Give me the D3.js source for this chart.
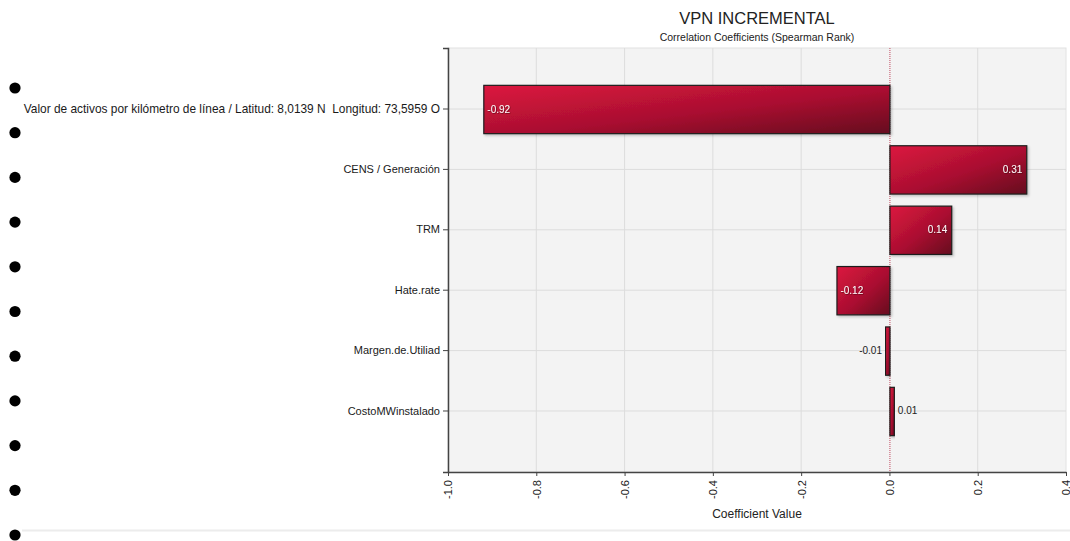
<!DOCTYPE html>
<html>
<head>
<meta charset="utf-8">
<script src="https://cdn.jsdelivr.net/npm/d3@7"></script>
<style>
  html, body { margin: 0; padding: 0; background: #ffffff; }
  svg { display: block; font-family: "Liberation Sans", "DejaVu Sans", sans-serif; }
  .ylab text { white-space: pre; }
</style>
</head>
<body>
<svg id="chart" width="1070" height="541"></svg>
<script>
// Tornado data: Spearman rank correlation of each input with VPN INCREMENTAL
const categories = [
  "Valor de activos por kilómetro de línea / Latitud: 8,0139 N  Longitud: 73,5959 O",
  "CENS / Generación",
  "TRM",
  "Hate.rate",
  "Margen.de.Utiliad",
  "CostoMWinstalado"
];
const coefficients = [-0.92, 0.31, 0.14, -0.12, -0.01, 0.01];
const xTicks = [-1.0, -0.8, -0.6, -0.4, -0.2, 0.0, 0.2, 0.4];
const xDomain = [-1.0, 0.4];

const titleText = "VPN INCREMENTAL";
const subtitleText = "Correlation Coefficients (Spearman Rank)";
const xAxisTitle = "Coefficient Value";

const svg = d3.select("#chart");
const W = 1070, H = 541;
const plot = { left: 448, right: 1066, top: 48, bottom: 472 };

const x = d3.scaleLinear().domain(xDomain).range([plot.left, plot.right]);
const y = d3.scaleBand().domain(categories).range([plot.top, plot.bottom])
  .paddingInner(0.2).paddingOuter(0.61);

// plain hyphen for negative numbers
const hyphen = f => v => f(v).replace("\u2212", "-");

// list bullets down the left margin
const bulletCount = 11;
svg.append("g").selectAll("circle")
  .data(d3.range(bulletCount))
  .join("circle")
  .attr("cx", 15)
  .attr("cy", i => 88 + i * 44.7)
  .attr("r", 5.6)
  .attr("fill", "#000");

// separator line near the bottom
svg.append("line")
  .attr("x1", 22).attr("x2", W)
  .attr("y1", 530.5).attr("y2", 530.5)
  .attr("stroke", "#ececec").attr("stroke-width", 2);

// gradient used for the bars
const defs = svg.append("defs");
const grad = defs.append("linearGradient")
  .attr("id", "barFill")
  .attr("x1", "0").attr("y1", "0").attr("x2", "1").attr("y2", "1");
grad.append("stop").attr("offset", "0%").attr("stop-color", "#dc173f");
grad.append("stop").attr("offset", "55%").attr("stop-color", "#a90f30");
grad.append("stop").attr("offset", "100%").attr("stop-color", "#650a1f");

const shadow = defs.append("filter").attr("id", "barShadow")
  .attr("x", "-5%").attr("y", "-10%").attr("width", "115%").attr("height", "130%");
shadow.append("feDropShadow").attr("dx", 1.5).attr("dy", 1.5)
  .attr("stdDeviation", 0.8).attr("flood-color", "#000").attr("flood-opacity", 0.22);

const textShadow = defs.append("filter").attr("id", "txtShadow");
textShadow.append("feDropShadow").attr("dx", 0.6).attr("dy", 0.6)
  .attr("stdDeviation", 0.4).attr("flood-color", "#3a0010").attr("flood-opacity", 0.8);

// plot background
svg.append("rect")
  .attr("x", plot.left).attr("y", plot.top)
  .attr("width", plot.right - plot.left).attr("height", plot.bottom - plot.top)
  .attr("fill", "#f3f3f3")
  .attr("stroke", "#e2e2e2");

// grid
const grid = svg.append("g");
grid.selectAll("line.v")
  .data(xTicks.filter(t => t !== 0 && t !== xDomain[0] && t !== xDomain[1]))
  .join("line").attr("class", "v")
  .attr("x1", d => x(d)).attr("x2", d => x(d))
  .attr("y1", plot.top).attr("y2", plot.bottom)
  .attr("stroke", "#dcdcdc").attr("stroke-width", 1);
grid.selectAll("line.h")
  .data(categories)
  .join("line").attr("class", "h")
  .attr("x1", plot.left).attr("x2", plot.right)
  .attr("y1", d => y(d) + y.bandwidth() / 2).attr("y2", d => y(d) + y.bandwidth() / 2)
  .attr("stroke", "#dcdcdc").attr("stroke-width", 1);

// zero reference line
svg.append("line")
  .attr("x1", x(0) + 0.5).attr("x2", x(0) + 0.5)
  .attr("y1", plot.top).attr("y2", plot.bottom)
  .attr("stroke", "#c0485e").attr("stroke-width", 1)
  .attr("stroke-dasharray", "1,1");

// bars
const rows = categories.map((c, i) => ({ cat: c, v: coefficients[i] }));
svg.append("g").selectAll("rect")
  .data(rows)
  .join("rect")
  .attr("x", d => Math.min(x(0), x(d.v)) + 0.5)
  .attr("y", d => y(d.cat) + 0.5)
  .attr("width", d => Math.abs(x(d.v) - x(0)))
  .attr("height", y.bandwidth())
  .attr("fill", "url(#barFill)")
  .attr("stroke", "#1e1e1e")
  .attr("stroke-width", 1.2)
  .attr("filter", "url(#barShadow)");

// value labels
const fmt = hyphen(d3.format(".2f"));
svg.append("g").selectAll("text")
  .data(rows)
  .join("text")
  .each(function (d) {
    const w = Math.abs(x(d.v) - x(0));
    const inside = w > 30;
    const t = d3.select(this);
    const cy = y(d.cat) + y.bandwidth() / 2;
    t.attr("y", cy).attr("dy", "0.35em").attr("font-size", 10);
    if (inside) {
      t.attr("fill", "#fff4f6").attr("filter", "url(#txtShadow)");
      if (d.v < 0) t.attr("x", x(d.v) + 4).attr("text-anchor", "start");
      else t.attr("x", x(d.v) - 4).attr("text-anchor", "end");
    } else {
      t.attr("fill", "#222");
      if (d.v < 0) t.attr("x", x(d.v) - 3).attr("text-anchor", "end");
      else t.attr("x", x(d.v) + 4).attr("text-anchor", "start");
    }
  })
  .text(d => fmt(d.v));

// y axis
const yAxis = svg.append("g")
  .attr("class", "ylab")
  .attr("transform", `translate(${plot.left},0)`)
  .call(d3.axisLeft(y).tickSize(5).tickPadding(3));
yAxis.select(".domain").attr("stroke", "#444").attr("stroke-width", 1.5);
yAxis.selectAll(".tick line").attr("stroke", "#444");
yAxis.selectAll(".tick text")
  .attr("font-size", (d, i) => d.length > 40 ? 11.9 : 11)
  .attr("font-family", "Liberation Sans, sans-serif")
  .attr("fill", "#1a1a1a");

// x axis
const xAxis = svg.append("g")
  .attr("transform", `translate(0,${plot.bottom})`)
  .call(d3.axisBottom(x).tickValues(xTicks).tickSize(4).tickSizeOuter(0)
    .tickFormat(hyphen(d3.format(".1f"))));
xAxis.select(".domain").attr("stroke", "#444").attr("stroke-width", 1.5);
xAxis.selectAll(".tick line").attr("stroke", "#444");
xAxis.selectAll(".tick text")
  .attr("font-size", 11)
  .attr("font-family", "Liberation Sans, sans-serif")
  .attr("fill", "#1a1a1a")
  .attr("transform", "rotate(-90)")
  .attr("text-anchor", "end")
  .attr("x", -8)
  .attr("y", 0)
  .attr("dy", "0.35em");

// titles
svg.append("text")
  .attr("x", 757).attr("y", 24)
  .attr("text-anchor", "middle")
  .attr("font-size", 16.5)
  .attr("fill", "#222")
  .text(titleText);
svg.append("text")
  .attr("x", 757).attr("y", 41)
  .attr("text-anchor", "middle")
  .attr("font-size", 10.5)
  .attr("fill", "#222")
  .text(subtitleText);
svg.append("text")
  .attr("x", 757).attr("y", 518)
  .attr("text-anchor", "middle")
  .attr("font-size", 12)
  .attr("fill", "#222")
  .text(xAxisTitle);
</script>
</body>
</html>
